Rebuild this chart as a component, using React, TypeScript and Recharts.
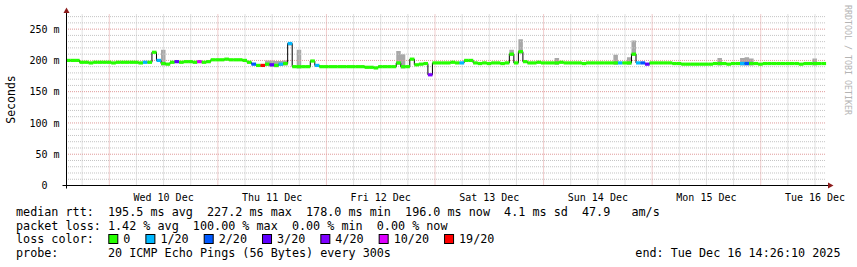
import React from "react";
import { ComposedChart, XAxis, YAxis, ReferenceLine, Area, Line, Scatter } from "recharts";

// smokeping, last 7 days ending Tue Dec 16 14:26:10 2025, one value per hour
const medianRtt = [
  200, 200, 200,
  197, 197, 196, 197, 197, 197, 197, 196, 197, 197, 197, 197, 197, 196, 197, 197,
  213, 200, 195, 194,
  197, 198, 197, 198, 198, 197, 198, 197, 198,
  201, 201, 201, 202, 201, 201, 201, 200,
  197, 194, 192, 192, 194, 193, 192, 194, 195,
  227,
  190, 190, 190, 190, 199, 192,
  190, 190, 190, 190, 190, 190, 190, 190, 190, 190, 189, 189, 188, 190, 190, 190, 190,
  196, 190, 190, 202, 193, 194, 195, 177,
  196, 196, 196, 196, 197, 196, 196,
  200, 200,
  196, 195, 196, 195, 196, 196, 195, 196,
  210, 196, 214, 198,
  196, 196, 197, 196, 196, 196, 196, 197, 196, 196, 196, 196, 195, 196, 196, 196, 196, 196, 196,
  196, 196, 196, 196, 210, 196, 196, 194,
  196, 196, 196, 196, 196, 195, 195,
  194, 194, 194, 194, 194, 194, 194,
  195, 195, 195, 194, 195, 195, 195, 195, 195, 195, 194, 195, 195, 195, 195, 195, 195, 195, 195, 194, 195, 195, 195, 195, 195,
];

// hours with packet loss, and the loss bucket (index into lossLabels)
const lossHours = [17, 20, 24, 29, 41, 43, 45, 47, 49, 55, 80, 87, 122, 126, 127, 128, 149, 150];
const lossLevels = [1, 1, 3, 5, 2, 6, 3, 1, 1, 1, 4, 1, 1, 1, 2, 3, 1, 2];

// hours where the smoke rises above the median line, and its top (ms)
const smokeHours = [21, 44, 45, 46, 47, 48, 49, 51, 73, 74, 98, 100, 108, 121, 124, 125, 144, 149, 150, 151, 165];
const smokeTops = [217, 200, 200, 199, 199, 200, 228, 217, 215, 210, 217, 234, 204, 209, 205, 232, 204, 204, 205, 203, 203];

const lossLabels = ["0", "1/20", "2/20", "3/20", "4/20", "10/20", "19/20"];
const lossColors = ["#26ff00", "#00b8ff", "#0059ff", "#5e00ff", "#7e00ff", "#dd00ff", "#ff0000"];

const dayLabels = ["Wed 10 Dec", "Thu 11 Dec", "Fri 12 Dec", "Sat 13 Dec", "Sun 14 Dec", "Mon 15 Dec", "Tue 16 Dec"];
const noonHours = [21.57, 45.57, 69.57, 93.57, 117.57, 141.57, 165.57];
const midnightHours = [9.57, 33.57, 57.57, 81.57, 105.57, 129.57, 153.57];
const sixHourMarks = [
  3.57, 15.57, 21.57, 27.57, 39.57, 45.57, 51.57, 63.57, 69.57, 75.57, 87.57, 93.57, 99.57,
  111.57, 117.57, 123.57, 135.57, 141.57, 147.57, 159.57, 165.57,
];
const majorValues = [0, 50, 100, 150, 200, 250];
const minorValues = [10, 20, 30, 40, 60, 70, 80, 90, 110, 120, 130, 140, 160, 170, 180, 190, 210, 220, 230, 240, 260, 270];

const statsLines = [
  "median rtt:  195.5 ms avg  227.2 ms max  178.0 ms min  196.0 ms now  4.1 ms sd  47.9   am/s",
  "packet loss: 1.42 % avg  100.00 % max  0.00 % min  0.00 % now",
];
const probeText = "probe:       20 ICMP Echo Pings (56 Bytes) every 300s";
const endText = "end: Tue Dec 16 14:26:10 2025";

const mono = "'DejaVu Sans Mono', monospace";
const minorGrid = "#c4c4c4";
const majorGrid = "#e09a9a";

const rows = medianRtt.map((m, h) => {
  const li = lossHours.indexOf(h);
  const si = smokeHours.indexOf(h);
  return {
    h,
    median: m,
    color: lossColors[li >= 0 ? lossLevels[li] : 0],
    smoke: si >= 0 ? [m - 3, smokeTops[si]] : [m, m],
  };
});

const DayTick = (p: any) => (
  <text x={p.x} y={p.y + 13} textAnchor="middle" fontFamily={mono} fontSize={10} fill="#000">
    {dayLabels[noonHours.indexOf(p.payload.value)]}
  </text>
);

const ValueTick = (p: any) => (
  <text x={p.x} y={p.y + 3.6} textAnchor="end" fontFamily={mono} fontSize={10} fill="#000">
    {p.payload.value === 0 ? "0\u00a0\u00a0" : `${p.payload.value} m`}
  </text>
);

const MedianBand = (p: any) => (
  <rect x={p.cx} y={p.cy - 1.6} width={4.6} height={3.2} fill={p.payload.color} />
);

const App = () => {
  let lx = 108.3;
  const lossItems = lossLabels.map((label, i) => {
    const x = lx;
    lx += 30 + label.length * 7.08;
    return (
      <g key={label}>
        <rect x={x + 0.5} y={234.5} width={9} height={9} fill={lossColors[i]} stroke="#000" />
        <text x={x + 15} y={243.3} fontFamily={mono} fontSize={11.75}>{label}</text>
      </g>
    );
  });

  return (
    <div style={{ position: "absolute", left: 0, top: 0, width: 857, height: 267, background: "#fff" }}>
      <ComposedChart width={857} height={267} data={rows} margin={{ top: 13.5, right: 31, bottom: 0, left: 0 }}>
        <XAxis
          type="number"
          dataKey="h"
          domain={[0, 168]}
          ticks={noonHours}
          interval={0}
          height={81.5}
          axisLine={false}
          tickLine={false}
          tickSize={0}
          tick={<DayTick />}
        />
        <YAxis
          type="number"
          domain={[0, 275]}
          ticks={majorValues}
          interval={0}
          width={66}
          axisLine={false}
          tickLine={false}
          tickSize={0}
          tickMargin={6.5}
          tick={<ValueTick />}
        />
        {minorValues.map((v) => (
          <ReferenceLine key={`hy${v}`} y={v} stroke={minorGrid} strokeDasharray="1 1" />
        ))}
        {sixHourMarks.map((h) => (
          <ReferenceLine key={`hx${h}`} x={h} stroke={minorGrid} strokeDasharray="1 1" />
        ))}
        {majorValues.map((v) => (
          <ReferenceLine key={`my${v}`} y={v} stroke={majorGrid} strokeDasharray="1 1" />
        ))}
        {midnightHours.map((h) => (
          <ReferenceLine key={`mx${h}`} x={h} stroke={majorGrid} strokeDasharray="1 1" />
        ))}
        <Area
          type="stepAfter"
          dataKey="smoke"
          stroke="none"
          fill="#a8a8a8"
          fillOpacity={1}
          isAnimationActive={false}
        />
        <Line
          type="stepAfter"
          dataKey="median"
          stroke="#000"
          strokeWidth={1}
          dot={false}
          isAnimationActive={false}
        />
        <Scatter dataKey="median" shape={MedianBand} isAnimationActive={false} />
      </ComposedChart>

      <svg width={857} height={267} style={{ position: "absolute", left: 0, top: 0, pointerEvents: "none" }}>
        {/* axes with arrows */}
        <line x1={62.5} y1={185.5} x2={829} y2={185.5} stroke="#000" />
        <line x1={66.5} y1={188.5} x2={66.5} y2={12.5} stroke="#000" />
        <polygon points="828,182.5 833.5,185.5 828,188.5" fill="#8c1c1c" />
        <polygon points="63.5,13 66.5,7.5 69.5,13" fill="#8c1c1c" />

        <text
          x={14.5}
          y={99.5}
          transform="rotate(-90 14.5 99.5)"
          textAnchor="middle"
          fontFamily={mono}
          fontSize={11.5}
        >
          Seconds
        </text>
        <text
          x={845}
          y={5}
          transform="rotate(90 845 5)"
          fontFamily={mono}
          fontSize={8.3}
          fill="#b4b4b4"
        >
          RRDTOOL / TOBI OETIKER
        </text>

        {statsLines.map((s, i) => (
          <text key={i} x={16} y={215.9 + i * 13.7} fontFamily={mono} fontSize={11.75} style={{ whiteSpace: "pre" }}>
            {s}
          </text>
        ))}
        <text x={16} y={243.3} fontFamily={mono} fontSize={11.75}>loss color:</text>
        {lossItems}
        <text x={16} y={257} fontFamily={mono} fontSize={11.75} style={{ whiteSpace: "pre" }}>
          {probeText}
        </text>
        <text x={840.5} y={257} textAnchor="end" fontFamily={mono} fontSize={11.75} style={{ whiteSpace: "pre" }}>
          {endText}
        </text>
      </svg>
    </div>
  );
};

export default App;
